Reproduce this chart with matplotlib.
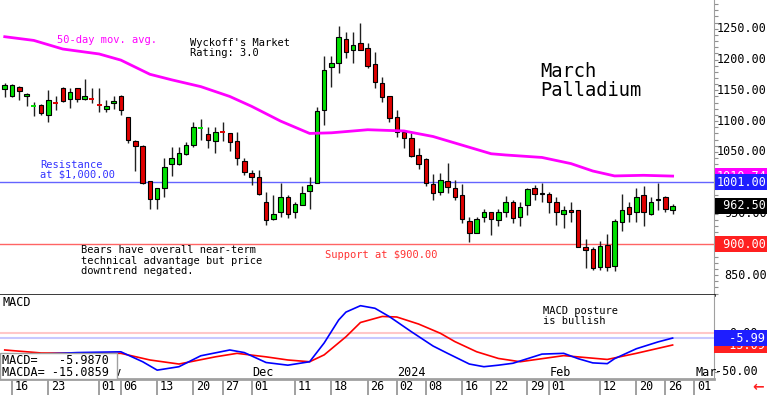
import matplotlib
matplotlib.use("Agg")
import matplotlib.pyplot as plt
import matplotlib.transforms as mtransforms
import pandas as pd

plt.rcParams['font.family'] = ['DejaVu Sans Mono', 'DejaVu Sans']

W, H = 768, 395

# trading calendar (exchange holidays removed)
holidays = ['2023-11-23', '2023-12-25', '2024-01-01', '2024-01-15', '2024-02-19']
days = pd.bdate_range('2023-10-13', '2024-03-08')
days = days[~days.isin(pd.to_datetime(holidays))]

# March palladium daily OHLC, 2023-10-13 .. 2024-02-27
opens = [1152, 1141, 1155, 1140, 1124, 1126, 1110, 1130, 1154, 1136,
         1153, 1136, 1136, 1126, 1119, 1129, 1141, 1106, 1067, 1060,
         1002, 973, 991, 1030, 1030, 1046, 1061, 1088, 1079, 1067,
         1083, 1080, 1067, 1035, 1015, 1009, 969, 941, 952, 977,
         953, 964, 987, 1000, 1118, 1188, 1194, 1234, 1215, 1226,
         1218, 1192, 1162, 1141, 1107, 1083, 1072, 1045, 1038, 998,
         985, 1002, 992, 980, 938, 919, 944, 952, 939, 952,
         969, 944, 963, 991, 981, 982, 968, 950, 956, 955,
         895, 893, 863, 899, 864, 937, 960, 953, 980, 950,
         972, 977, 955]
highs = [1162, 1161, 1157, 1145, 1131, 1128, 1150, 1140, 1155, 1153,
         1153, 1169, 1153, 1153, 1134, 1141, 1142, 1106, 1070, 1061,
         1002, 992, 1040, 1058, 1058, 1066, 1099, 1103, 1090, 1090,
         1099, 1080, 1083, 1040, 1021, 1021, 985, 980, 999, 980,
         969, 994, 1010, 1123, 1205, 1205, 1255, 1244, 1244, 1259,
         1226, 1212, 1172, 1141, 1118, 1086, 1080, 1056, 1040, 1014,
         1016, 1032, 1005, 998, 945, 945, 958, 953, 958, 979,
         972, 969, 991, 996, 1000, 985, 977, 962, 968, 956,
         908, 895, 906, 917, 941, 982, 968, 991, 994, 977,
         1000, 979, 966]
lows = [1139, 1139, 1134, 1124, 1108, 1110, 1099, 1118, 1131, 1121,
        1131, 1134, 1129, 1115, 1115, 1119, 1110, 1064, 1019, 998,
        957, 957, 977, 1011, 1029, 1045, 1058, 1069, 1056, 1049,
        1067, 1052, 1029, 1012, 996, 980, 931, 939, 945, 943,
        942, 963, 958, 999, 1094, 1156, 1178, 1202, 1194, 1215,
        1186, 1153, 1131, 1099, 1075, 1056, 1042, 1023, 994, 972,
        980, 983, 972, 934, 904, 918, 937, 915, 929, 945,
        934, 929, 948, 972, 969, 951, 932, 926, 937, 895,
        861, 859, 859, 857, 856, 922, 937, 937, 929, 948,
        955, 952, 950]
closes = [1158, 1158, 1149, 1144, 1124.5, 1113, 1134, 1129.5, 1132, 1147,
          1136, 1141, 1135.5, 1125.5, 1125, 1133, 1118, 1069, 1060, 999,
          973, 992, 1026, 1040, 1049, 1062, 1091, 1088.5, 1070, 1083,
          1082.5, 1066, 1040, 1017, 1010, 981, 939, 949, 976, 950,
          965, 983, 997, 1116, 1183, 1195, 1236, 1212, 1224, 1216,
          1190, 1163, 1139, 1105, 1083, 1072, 1044, 1030, 999, 983,
          1005, 993, 976, 941, 919, 941, 952, 941, 952, 968,
          942, 961, 989, 982, 984, 968, 952, 955, 952, 896,
          891, 861, 897, 863, 938, 956, 950, 976, 953, 968,
          974, 957, 962.5]

# 50-day moving average, read at sample dates
ma_dates = ['2023-10-13', '2023-10-19', '2023-10-25', '2023-11-01', '2023-11-06',
            '2023-11-10', '2023-11-15', '2023-11-21', '2023-11-28', '2023-12-01',
            '2023-12-04', '2023-12-07', '2023-12-13', '2023-12-18', '2023-12-26',
            '2024-01-03', '2024-01-09', '2024-01-16', '2024-01-22', '2024-01-24',
            '2024-01-31', '2024-02-06', '2024-02-09', '2024-02-14', '2024-02-21',
            '2024-02-27']
ma_values = [1237, 1231, 1217, 1209, 1199, 1176, 1167, 1156, 1140, 1124,
             1118, 1100, 1080, 1081, 1086, 1084, 1075, 1061, 1047, 1045,
             1041, 1031, 1019, 1011, 1012, 1010.74]

# MACD (blue) and MACDA (red)
macd_dates = ['2023-10-13', '2023-10-20', '2023-10-27', '2023-11-06', '2023-11-09',
              '2023-11-13', '2023-11-16', '2023-11-21', '2023-11-28', '2023-11-30',
              '2023-12-05', '2023-12-08', '2023-12-13', '2023-12-15', '2023-12-19',
              '2023-12-20', '2023-12-22', '2023-12-27', '2023-12-29', '2024-01-04',
              '2024-01-09', '2024-01-11', '2024-01-17', '2024-01-19', '2024-01-23',
              '2024-01-25', '2024-01-31', '2024-02-05', '2024-02-07', '2024-02-09',
              '2024-02-13', '2024-02-14', '2024-02-20', '2024-02-23', '2024-02-27']
macd_values = [-28, -27, -25, -24, -37, -48, -43.5, -29.2, -21.6, -25,
               -38, -41.5, -37, -12.4, 17.7, 28, 36.4, 33, 22, 2.4,
               -16.4, -26, -40, -43.5, -41.5, -39, -27, -26, -33, -38.5,
               -39.5, -33, -20, -11, -5.987]
macda_dates = ['2023-10-13', '2023-10-20', '2023-11-06', '2023-11-10', '2023-11-16',
               '2023-11-24', '2023-11-29', '2023-12-05', '2023-12-08', '2023-12-13',
               '2023-12-15', '2023-12-20', '2023-12-22', '2023-12-28', '2024-01-02',
               '2024-01-05', '2024-01-10', '2024-01-12', '2024-01-18', '2024-01-23',
               '2024-01-26', '2024-02-05', '2024-02-13', '2024-02-20', '2024-02-27']
macda_values = [-21.6, -25.5, -26, -34.7, -40, -30.6, -26, -30.6, -34.7, -37,
                -28, -4.3, 14.4, 22.3, 21.6, 12.4, 0.3, -10.6, -23.9, -32.7,
                -37, -29, -34, -26, -15.0859]

tick_dates = ['2023-10-16', '2023-10-23', '2023-11-01', '2023-11-06', '2023-11-13',
              '2023-11-20', '2023-11-27', '2023-12-01', '2023-12-11', '2023-12-18',
              '2023-12-26', '2024-01-02', '2024-01-08', '2024-01-16', '2024-01-22',
              '2024-01-29', '2024-02-01', '2024-02-12', '2024-02-20', '2024-02-26',
              '2024-03-01']
month_dates = ['2023-11-01', '2023-12-01', '2024-01-02', '2024-02-01', '2024-03-01']
month_labels = ['Nov', 'Dec', '2024', 'Feb', 'Mar']

price_ticks = [850, 900, 950, 1000, 1050, 1100, 1150, 1200, 1250]
resistance = 1001.00
support = 900.00
ma_last = 1010.74
last_close = 962.50
macd_last = -5.9870
macda_last = -15.0859

GREEN = '#00e000'
RED = '#e00000'


def pos(d):
    return days.get_loc(pd.Timestamp(d))


def fx(x):
    return x / W


def fy(y):
    return 1 - y / H


fig = plt.figure(figsize=(W / 100, H / 100), dpi=100)
ax = fig.add_axes([0, fy(295), fx(714), 295 / H])
ax2 = fig.add_axes([0, fy(379), fx(714), 84 / H], sharex=ax)

# ---- price panel ----
for i, (o, h, l, c) in enumerate(zip(opens, highs, lows, closes)):
    col = GREEN if c >= o else RED
    ax.vlines(i, l, h, color='#202020', lw=1.0, zorder=2)
    if abs(c - o) < 1:
        ax.hlines(c, i - 0.35, i + 0.35, color=col, lw=1.4, zorder=3)
    else:
        ax.bar(i, abs(c - o), bottom=min(o, c), width=0.62, color=col,
               edgecolor='black', lw=0.8, zorder=3)

ax.plot([pos(d) for d in ma_dates], ma_values, color='#ff00ff', lw=2.0, zorder=4)
ax.axhline(resistance, color='#6464ff', lw=1.0, zorder=1)
ax.axhline(support, color='#ff6464', lw=1.0, zorder=1)

ax.set_xlim(-0.653, 97.7)
ax.set_ylim(817.7, 1296.6)
for s in ['top', 'left']:
    ax.spines[s].set_visible(False)
ax.spines['right'].set_color('#a0a0a0')
ax.spines['bottom'].set_color('black')
ax.spines['bottom'].set_linewidth(1.8)
ax.set_yticks(price_ticks)
ax.set_yticks(range(820, 1300, 10), minor=True)
ax.yaxis.tick_right()
ax.tick_params(axis='y', which='both', labelright=False, color='#909090',
               direction='out', length=3, width=0.8)
ax.tick_params(axis='x', which='both', bottom=False, labelbottom=False)

tr = mtransforms.blended_transform_factory(ax.transAxes, ax.transData)
for t in price_ticks:
    ax.text(1.0742, t, f'{t:.2f}', transform=tr, ha='right', va='center',
            fontsize=8.5, clip_on=False)


def value_box(axis, val, label, color, x=1.003):
    t = mtransforms.blended_transform_factory(axis.transAxes, axis.transData)
    axis.text(x, val, label, transform=t, ha='left', va='center', fontsize=8.5,
              color='white', clip_on=False, zorder=10,
              bbox=dict(boxstyle='square,pad=0.12', fc=color, ec='none'))


value_box(ax, ma_last, f'{ma_last:.2f}', '#ff00ff')
value_box(ax, resistance, f'{resistance:.2f}', '#1e1eff')
value_box(ax, last_close, f'{last_close:>7.2f}', 'black')
value_box(ax, support, f'{support:>7.2f}', '#ff2020')

# ---- annotations ----
fig.text(fx(57), fy(40), '50-day mov. avg.', color='#ff00ff', fontsize=7.5, va='center')
fig.text(fx(190), fy(48.5), "Wyckoff's Market\nRating: 3.0", fontsize=7.5,
         va='center', linespacing=1.0)
fig.text(fx(540), fy(81), 'March\nPalladium', fontsize=13.5, va='center',
         linespacing=1.0)
fig.text(fx(40), fy(169.5), 'Resistance\nat $1,000.00', color='#3232ff',
         fontsize=7.5, va='center', linespacing=1.0)
fig.text(fx(81), fy(260.5), 'Bears have overall near-term\n'
         'technical advantage but price\ndowntrend negated.', fontsize=7.5,
         va='center', linespacing=1.0)
fig.text(fx(325), fy(255), 'Support at $900.00', color='#ff3232', fontsize=7.5,
         va='center')

# ---- MACD panel ----
ax2.axhline(0, color='#ffc8c8', lw=1.5, zorder=1)
ax2.axhline(macd_last, color='#c8c8ff', lw=1.5, zorder=1)
ax2.plot([pos(d) for d in macda_dates], macda_values, color='#ff0000', lw=1.2, zorder=2)
ax2.plot([pos(d) for d in macd_dates], macd_values, color='#0000ff', lw=1.2, zorder=3)
ax2.set_ylim(-59.6, 50.4)
for s in ['top', 'left']:
    ax2.spines[s].set_visible(False)
ax2.spines['right'].set_color('#a0a0a0')
ax2.spines['bottom'].set_color('#a0a0a0')
ax2.spines['bottom'].set_linewidth(2)
ax2.set_yticks([0, -50])
ax2.yaxis.tick_right()
ax2.tick_params(axis='y', labelright=False, color='#909090', length=3)

tr2 = mtransforms.blended_transform_factory(ax2.transAxes, ax2.transData)
for t in [0, -50]:
    ax2.text(1.0616, t, f'{t:.2f}', transform=tr2, ha='right', va='center',
             fontsize=8.5, clip_on=False)
value_box(ax2, macda_last, f'{macda_last:>7.2f}', '#ff2020', x=1.002)
value_box(ax2, macd_last, f'{macd_last:>7.2f}', '#1e1eff', x=1.002)

ticks = [pos(d) for d in tick_dates]
ax2.set_xticks(ticks)
ax2.tick_params(axis='x', length=13, width=1.2, color='#909090', labelbottom=False)
trx = mtransforms.blended_transform_factory(ax2.transData, ax2.transAxes)
for p, d in zip(ticks, tick_dates):
    ax2.text(p + 0.35, -0.095, d[-2:], transform=trx, fontsize=8.5,
             ha='left', va='center', clip_on=False)
for d, lab in zip(month_dates, month_labels):
    ax2.text(pos(d) + 0.1, 0.075, lab, transform=trx, fontsize=8.5,
             ha='left', va='center')

ax2.text(0.004, 0.915, 'MACD', transform=ax2.transAxes, fontsize=8.5, va='center')
fig.text(fx(543), fy(316), 'MACD posture\nis bullish', fontsize=7.5,
         va='center', linespacing=1.0)

# readout box over the lower-left corner
box = plt.Rectangle((0, 0), 117 / 714, (379 - 353) / 84, transform=ax2.transAxes,
                    fc='white', ec='#a0a0a0', lw=1.0, zorder=8, clip_on=False)
ax2.add_patch(box)
ax2.text(0.003, (379 - 360.5) / 84, f'MACD=   {macd_last:.4f}', transform=ax2.transAxes,
         fontsize=8.5, va='center', zorder=9)
ax2.text(0.003, (379 - 372.5) / 84, f'MACDA= {macda_last:.4f}', transform=ax2.transAxes,
         fontsize=8.5, va='center', zorder=9)

fig.text(fx(752), fy(387), '\u2190', color='#ff2020', fontsize=10,
         fontweight='bold', va='center', family='DejaVu Sans')

fig.savefig('out.png', dpi=100)
